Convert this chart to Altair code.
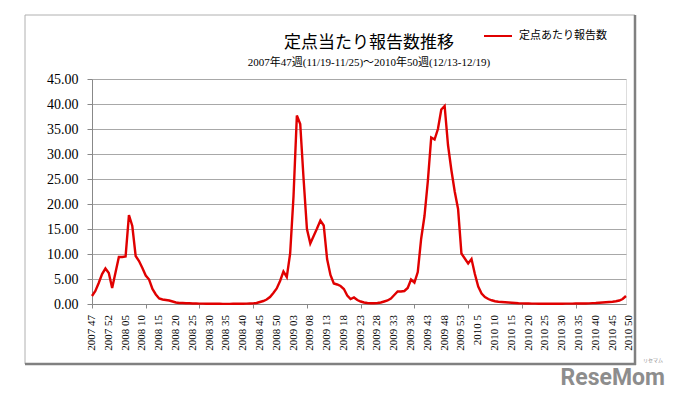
import altair as alt
import pandas as pd

tick_labels = [
    "2007 47", "2007 52",
    "2008 05", "2008 10", "2008 15", "2008 20", "2008 25", "2008 30", "2008 35",
    "2008 40", "2008 45", "2008 50",
    "2009 03", "2009 08", "2009 13", "2009 18", "2009 23", "2009 28", "2009 33",
    "2009 38", "2009 43", "2009 48", "2009 53",
    "2010 5", "2010 10", "2010 15", "2010 20", "2010 25", "2010 30", "2010 35",
    "2010 40", "2010 45", "2010 50",
]

# weekly reports per sentinel site, 2007 wk47 .. 2010 wk50 (161 weeks)
values_2007_08 = [
    1.6, 2.6, 4.2, 6.0, 7.1, 6.2, 3.2, 6.3, 9.4, 9.4,
    9.5, 17.8, 15.6, 9.6, 8.6, 7.2, 5.7, 4.9, 3.0, 1.9,
    1.1, 0.9, 0.8, 0.7, 0.5, 0.3, 0.2, 0.2, 0.15, 0.15,
    0.1, 0.1, 0.08, 0.07, 0.06, 0.05, 0.05, 0.04, 0.04, 0.03,
    0.03, 0.03, 0.04, 0.04, 0.05, 0.06, 0.07, 0.09, 0.12, 0.2,
]
values_2008_09 = [
    0.4, 0.6, 0.9, 1.4, 2.2, 3.1, 4.6, 6.5, 5.4, 10.1,
    21.5, 37.7, 36.0, 25.0, 15.0, 12.1, 13.6, 15.1, 16.7, 15.7,
    9.0, 5.8, 4.1, 3.9, 3.6, 3.0, 1.7, 1.0, 1.3, 0.8,
    0.5, 0.3, 0.2, 0.15, 0.15,
]
values_2009_10 = [
    0.2, 0.3, 0.5, 0.7, 1.1, 1.8, 2.5, 2.5, 2.6, 3.2,
    4.9, 4.3, 6.4, 13.0, 17.6, 24.6, 33.3, 32.9, 35.0, 38.9,
    39.6, 31.8, 26.8, 22.5, 19.0, 10.1, 9.1, 8.1, 9.0, 6.0,
    3.5, 2.1, 1.4, 1.0, 0.75, 0.55, 0.45, 0.4, 0.35, 0.3,
    0.25, 0.2, 0.15, 0.12, 0.1, 0.1, 0.08, 0.07, 0.06, 0.06,
    0.05, 0.05, 0.05, 0.05, 0.06, 0.06, 0.07, 0.07, 0.08, 0.09,
    0.09, 0.1, 0.1, 0.13, 0.17, 0.2, 0.25, 0.3, 0.35, 0.4,
    0.45, 0.55, 0.7, 1.0, 1.6,
]
values = values_2007_08 + values_2008_09 + values_2009_10

series_name = "定点あたり報告数"
title_text = "定点当たり報告数推移"
subtitle_text = "2007年47週(11/19-11/25)～2010年50週(12/13-12/19)"
y_ticks = [0, 5, 10, 15, 20, 25, 30, 35, 40, 45]
label_step = 5

n = len(values)
df = pd.DataFrame({"idx": list(range(n)), "value": values, "series": [series_name] * n})
lab_df = pd.DataFrame({
    "idx": [i * label_step for i in range(len(tick_labels))],
    "label": tick_labels,
})

W, H = 534, 225
x_scale = alt.Scale(domain=[0, n - 1], nice=False, zero=False)

line = alt.Chart(df).mark_line(strokeWidth=2.4, clip=False).encode(
    x=alt.X(
        "idx:Q",
        scale=x_scale,
        axis=alt.Axis(
            title=None,
            values=list(range(n)),
            labels=False,
            tickSize=4,
            tickColor="#888888",
            domainColor="#888888",
            grid=False,
        ),
    ),
    y=alt.Y(
        "value:Q",
        scale=alt.Scale(domain=[0, 45], nice=False),
        axis=alt.Axis(
            title=None,
            values=y_ticks,
            format=".2f",
            grid=True,
            gridColor="#a8a8a8",
            domainColor="#888888",
            tickColor="#888888",
            tickSize=5,
            labelPadding=9,
            labelFont="Liberation Serif",
            labelFontSize=14,
            labelColor="black",
        ),
    ),
    color=alt.Color(
        "series:N",
        scale=alt.Scale(range=["#e00000"]),
        legend=alt.Legend(
            title=None,
            orient="none",
            legendX=391,
            legendY=-58,
            symbolType="stroke",
            symbolSize=784,
            symbolStrokeWidth=2,
            labelFont="Noto Sans CJK JP",
            labelFontSize=11,
            labelColor="black",
            labelOffset=6,
            padding=0,
        ),
    ),
)

x_labels = alt.Chart(lab_df).mark_text(
    angle=270, align="right", baseline="middle",
    font="Liberation Serif", fontSize=11, color="black"
).encode(
    x=alt.X("idx:Q", scale=x_scale),
    y=alt.value(H + 11),
    text="label:N",
)

one = pd.DataFrame({"a": [0]})
title_mark = alt.Chart(pd.DataFrame({"t": [title_text]})).mark_text(
    align="center", baseline="middle", font="Noto Sans CJK JP", fontSize=17,
    color="black"
).encode(x=alt.value(277), y=alt.value(-36), text="t:N")
subtitle_mark = alt.Chart(pd.DataFrame({"t": [subtitle_text]})).mark_text(
    align="center", baseline="middle", font="Liberation Serif, Noto Sans CJK JP",
    fontSize=11, color="black"
).encode(x=alt.value(277), y=alt.value(-16), text="t:N")

fx0, fx1, fy0, fy1 = -67, 543, -64, 285
frame_top = alt.Chart(one).mark_rule(color="#b0b0b0", strokeWidth=1).encode(
    x=alt.value(fx0), x2=alt.value(fx1), y=alt.value(fy0))
frame_left = alt.Chart(one).mark_rule(color="#b0b0b0", strokeWidth=1).encode(
    x=alt.value(fx0), y=alt.value(fy0), y2=alt.value(fy1))
frame_right = alt.Chart(one).mark_rule(color="#808080", strokeWidth=2.5).encode(
    x=alt.value(fx1), y=alt.value(fy0), y2=alt.value(fy1 + 1))
frame_bottom = alt.Chart(one).mark_rule(color="#808080", strokeWidth=2.5).encode(
    x=alt.value(fx0), x2=alt.value(fx1 + 1), y=alt.value(fy1))

wm = alt.Chart(pd.DataFrame({"t": ["ReseMom"]})).mark_text(
    align="right", baseline="alphabetic", font="Roboto", fontSize=23,
    fontWeight="bold", color="#8d8d8d"
).encode(x=alt.value(573), y=alt.value(306), text="t:N")
wm_small = alt.Chart(pd.DataFrame({"t": ["リセマム"]})).mark_text(
    align="right", baseline="alphabetic", font="Noto Sans CJK JP", fontSize=5,
    color="#8d8d8d"
).encode(x=alt.value(571), y=alt.value(283), text="t:N")

chart = alt.layer(
    frame_top, frame_left, frame_right, frame_bottom,
    title_mark, subtitle_mark, line, x_labels, wm, wm_small
).properties(
    width=W,
    height=H,
    autosize=alt.AutoSizeParams(type="none"),
    padding={"left": 84, "top": 71, "right": 41, "bottom": 87},
).configure_view(stroke=None).configure(background="white")

chart.save("out.html", embed_options={"renderer": "svg", "actions": False})
